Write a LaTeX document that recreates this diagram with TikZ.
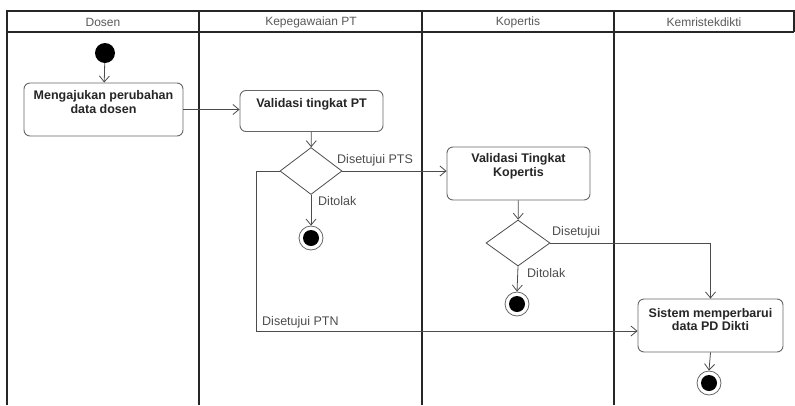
\documentclass[tikz,border=0pt]{standalone}
\usepackage{fontspec}
\setmainfont{Liberation Sans}
\usetikzlibrary{shapes.geometric,arrows.meta}
\begin{document}
\begin{tikzpicture}[x=1pt,y=-1pt,
  lane/.style={draw=black!85, line width=1.4pt},
  act/.style={draw=black!60, rounded corners=6pt, line width=0.9pt, fill=white, inner sep=0pt},
  acttext/.style={font=\fontsize{12.5}{13.5}\selectfont\bfseries, text=black!85, align=center, inner sep=0pt},
  dec/.style={diamond, draw=black!70, line width=0.8pt, inner sep=0pt},
  flow/.style={draw=black!70, line width=0.8pt, -{Straight Barb[length=6pt,width=10pt]}},
  lbl/.style={font=\fontsize{12.5}{14}\selectfont, text=black!70, inner sep=0pt},
  hdr/.style={font=\fontsize{12}{14}\selectfont, text=black!65, inner sep=0pt},
  startnode/.style={circle, fill=black, minimum size=20pt, inner sep=0pt},
  endout/.style={circle, draw=black!60, line width=0.8pt, minimum size=24pt, inner sep=0pt, fill=white},
  endin/.style={circle, fill=black, minimum size=16pt, inner sep=0pt}
]
\useasboundingbox (0,0) rectangle (795,405);
% swimlane frame
\draw[lane] (7,405) -- (7,11) -- (794,11) -- (794,32);
\draw[lane] (7,32) -- (794,32);
\draw[lane] (199,11) -- (199,405);
\draw[lane, line width=2.2pt] (422,11) -- (422,405);
\draw[lane, line width=2pt] (614,11) -- (614,405);
\node[hdr] (h1) at (103,22) {Dosen};
\node[hdr] (h2) at (311,22) {Kepegawaian PT};
\node[hdr] (h3) at (518,22) {Kopertis};
\node[hdr] (h4) at (704,22) {Kemristekdikti};

% nodes
\node[startnode] (st) at (105,53) {};
\node[act, minimum width=159pt, minimum height=53pt] (a1) at (103.5,109.5) {};
\node[acttext] (a1t) at (103.5,102) {Mengajukan perubahan\\data dosen};
\node[act, minimum width=143pt, minimum height=41pt] (a2) at (311.5,111) {};
\node[acttext] (a2t) at (311.5,104) {Validasi tingkat PT};
\node[dec, minimum width=62pt, minimum height=47pt] (d1) at (311,171) {};
\node[endout] (f1o) at (311,238) {};
\node[endin] (f1) at (311,238) {};
\node[act, minimum width=143pt, minimum height=53pt] (k1) at (518.5,173.5) {};
\node[acttext] (k1t) at (518.5,166.5) {Validasi Tingkat\\Kopertis};
\node[dec, minimum width=64pt, minimum height=46pt] (d2) at (518,243) {};
\node[endout] (f2o) at (517,304) {};
\node[endin] (f2) at (517,304) {};
\node[act, minimum width=145pt, minimum height=53pt] (s1) at (710.5,325.5) {};
\node[acttext] (s1t) at (710.5,319.5) {Sistem memperbarui\\data PD Dikti};
\node[endout] (f3o) at (709,383) {};
\node[endin] (f3) at (709,383) {};
\coordinate (c1) at (256,331);

% connectors
\draw[flow] (st) -- (a1);
\draw[flow] (a1.east) -- (a1.east -| a2.west);
\draw[flow] (a2) -- (d1);
\draw[flow] (d1.east) -- (d1.east -| k1.west);
\draw[flow] (d1.south) -- (f1o.north);
\draw[flow] (d1.west) -| (c1) -- (c1 -| s1.west);
\draw[flow] (k1) -- (d2);
\draw[flow] (d2.east) -| (s1.north);
\draw[flow] (d2.south) -- (f2o.north);
\draw[flow] (s1.south) -- (f3o.north);

% labels
\node[lbl, anchor=west] (l1) at (337,160) {Disetujui PTS};
\node[lbl, anchor=west] (l2) at (318,201) {Ditolak};
\node[lbl, anchor=west] (l3) at (262,322) {Disetujui PTN};
\node[lbl, anchor=west] (l4) at (552,232) {Disetujui};
\node[lbl, anchor=west] (l5) at (527,273) {Ditolak};
\end{tikzpicture}
\end{document}
